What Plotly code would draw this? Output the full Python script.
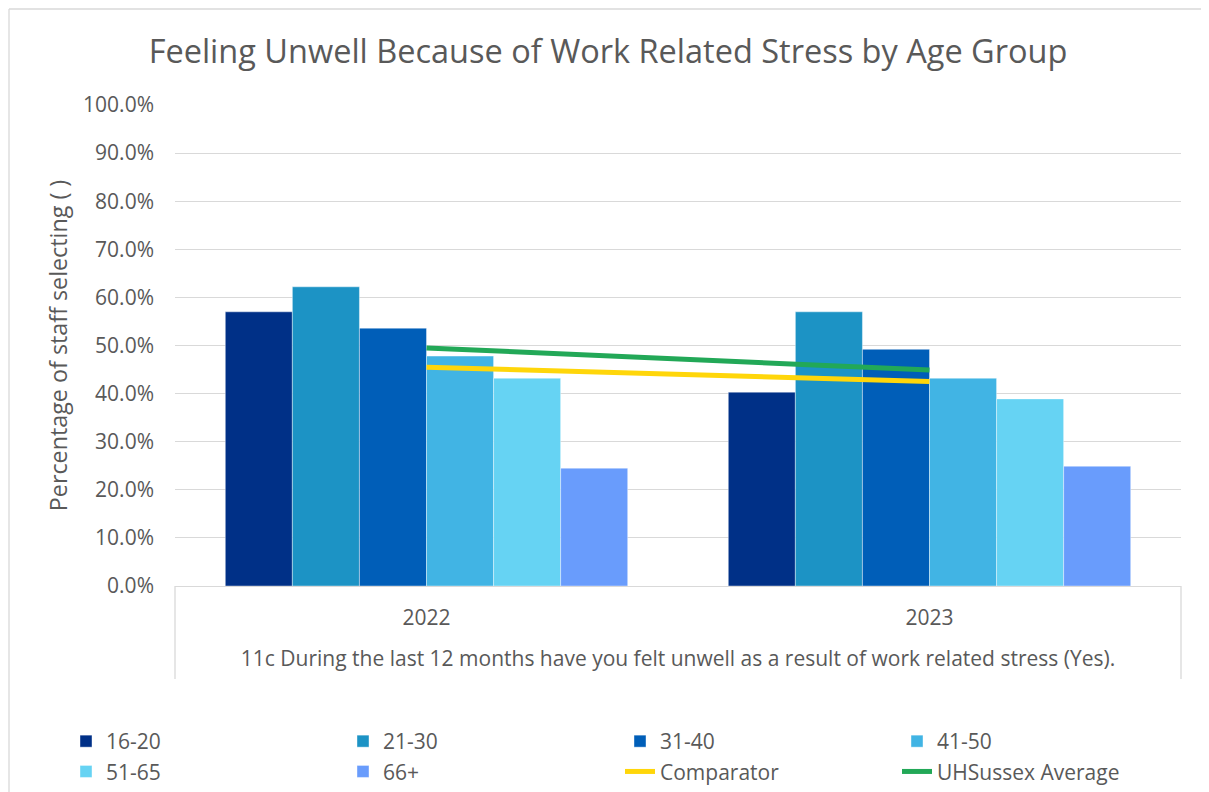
import plotly.graph_objects as go

years = ["2022", "2023"]
age_groups = ["16-20", "21-30", "31-40", "41-50", "51-65", "66+"]
v_16_20 = [0.570, 0.403]
v_21_30 = [0.622, 0.570]
v_31_40 = [0.536, 0.492]
v_41_50 = [0.478, 0.432]
v_51_65 = [0.432, 0.389]
v_66 = [0.245, 0.249]
comparator = [0.455, 0.425]
uhsussex_avg = [0.495, 0.449]

bar_values = [v_16_20, v_21_30, v_31_40, v_41_50, v_51_65, v_66]
bar_colors = ["#003087", "#1C93C5", "#005EB8", "#41B4E4", "#66D3F3", "#699CFC"]

FONT = "Open Sans"
GREY = "#595959"
GRID = "#D9D9D9"

fig = go.Figure()
for name, vals, col in zip(age_groups, bar_values, bar_colors):
    fig.add_trace(go.Bar(x=years, y=vals, name=name,
                         marker=dict(color=col, line=dict(color="rgba(255,255,255,0.5)", width=0.8))))

fig.add_trace(go.Scatter(x=years, y=comparator, name="Comparator", mode="lines",
                         line=dict(color="#FFD60A", width=5)))
fig.add_trace(go.Scatter(x=years, y=uhsussex_avg, name="UHSussex Average", mode="lines",
                         line=dict(color="#22A857", width=5)))

# page body margin offset (8px) compensated: screen px = layout px + 8
OFF = 8
W, H = 1209 - OFF, 808
PL, PR, PT, PB = 175, 1181, 105, 586   # plot area in screen px
L, T = PL - OFF, PT - OFF
pw, ph = PR - PL, PB - PT
R, B = W - L - pw, H - T - ph

def px_x(p):
    return (p - PL) / pw

def px_y(p):
    return (PB - p) / ph

fig.update_layout(
    width=W, height=H,
    margin=dict(l=L, r=R, t=T, b=B),
    paper_bgcolor="white", plot_bgcolor="white",
    font=dict(family=FONT, color=GREY, size=19),
    title=dict(text="Feeling Unwell Because of Work Related Stress by Age Group",
               x=(608 - OFF) / W, xanchor="center", y=1 - (52 - OFF) / H, yanchor="middle",
               font=dict(size=32.5, color=GREY, family=FONT)),
    barmode="group", bargap=0.2, bargroupgap=0,
    showlegend=True,
    legend=dict(orientation="h", x=px_x(66), xanchor="left", y=px_y(721), yanchor="top",
                entrywidth=232, entrywidthmode="pixels", traceorder="normal",
                font=dict(size=21, color=GREY, family=FONT), bgcolor="rgba(0,0,0,0)"),
    xaxis=dict(type="category", showline=True, linecolor=GRID, linewidth=1.3,
               showgrid=False, ticks="", ticklabelstandoff=13,
               tickfont=dict(size=21, color=GREY),
               title=dict(text="11c During the last 12 months have you felt unwell as a result of work related stress (Yes).",
                          font=dict(size=21, color=GREY), standoff=20)),
    yaxis=dict(range=[0, 1], dtick=0.1, tickformat=".1%", showgrid=True,
               gridcolor=GRID, gridwidth=1.3, zeroline=False, showline=False,
               ticks="", ticklabelstandoff=20, tickfont=dict(size=21, color=GREY),
               title=dict(text="Percentage of staff selecting ( )",
                          font=dict(size=23.3, color=GREY), standoff=8)),
    shapes=[
        dict(type="line", xref="paper", yref="paper", x0=0, x1=0, y0=0, y1=px_y(679),
             line=dict(color=GRID, width=1.3)),
        dict(type="line", xref="paper", yref="paper", x0=1, x1=1, y0=0, y1=px_y(679),
             line=dict(color=GRID, width=1.3)),
        dict(type="line", xref="paper", yref="paper", x0=px_x(9), x1=px_x(9),
             y0=px_y(805), y1=px_y(9), line=dict(color=GRID, width=1.3)),
        dict(type="line", xref="paper", yref="paper", x0=px_x(9), x1=px_x(1215),
             y0=px_y(9), y1=px_y(9), line=dict(color=GRID, width=1.3)),
    ],
)

fig.write_html("out.html")
